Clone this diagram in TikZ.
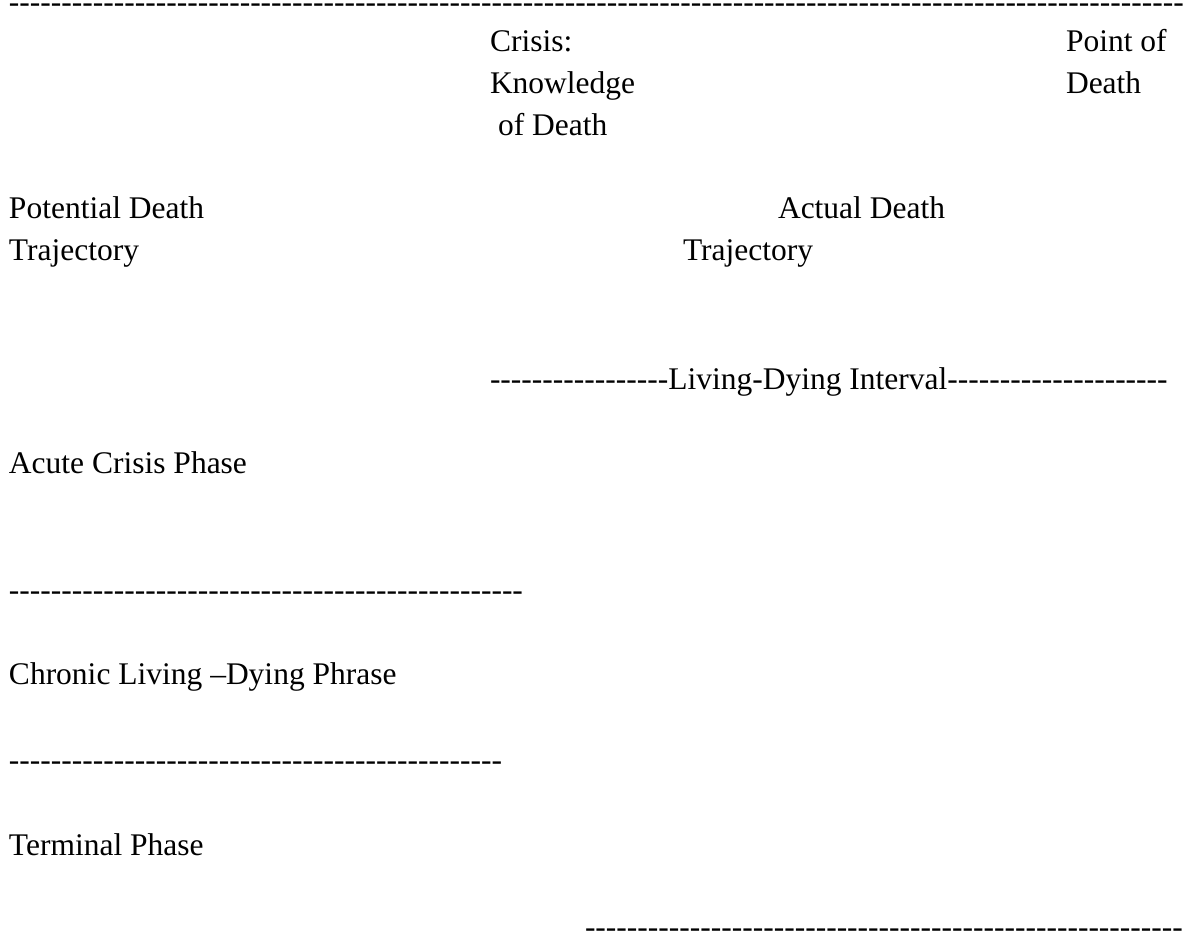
\documentclass[tikz,border=0pt]{standalone}
\usepackage{fontspec}
\setmainfont{Liberation Serif}[Ligatures=TeXOff]
\usepackage{tikz}
\newcommand{\dashrun}[1]{\foreach\k in {1,...,#1}{-}}
\tikzset{txt/.style={anchor=base west, inner sep=0pt, outer sep=0pt, font=\fontsize{31.5}{42}\selectfont}}

\begin{document}
\begin{tikzpicture}[x=1pt,y=-1pt]
                %\draw[help lines] (0,0) grid (1183,933);
                \useasboundingbox (0,0) rectangle (1183,933);
                \node[txt] (toprule) at (9,13) {\smash{\dashrun{113}}};
                % upper labels
                \node[txt] (crisis) at (490,52) {Crisis:};
                \node[txt] (knowledge) at (490,94) {Knowledge};
                \node[txt] (ofdeath) at (498,136) {of Death};
                \node[txt] (pointof) at (1066,52) {Point of};
                \node[txt] (death) at (1066,94) {Death};
                \node[txt] (potential) at (9,219) {Potential Death};
                \node[txt] (trajleft) at (9,261) {Trajectory};
                \node[txt] (actual) at (778,219) {Actual Death};
                \node[txt] (trajright) at (683,261) {Trajectory};
                \node[txt] (interval) at (490,389) {\dashrun{17}Living-Dying Interval\dashrun{21}};
                % phases
                \node[txt] (acute) at (9,473) {Acute Crisis Phase};
                \node[txt] (ruleone) at (9,600) {\dashrun{49}};
                \node[txt] (chronic) at (9,684) {Chronic Living –Dying Phrase};
                \node[txt] (ruletwo) at (9,770) {\dashrun{47}};
                \node[txt] (terminal) at (9,855) {Terminal Phase};
                \node[txt] (rulethree) at (585,937) {\smash{\dashrun{57}}};
        \end{tikzpicture}
\end{document}
